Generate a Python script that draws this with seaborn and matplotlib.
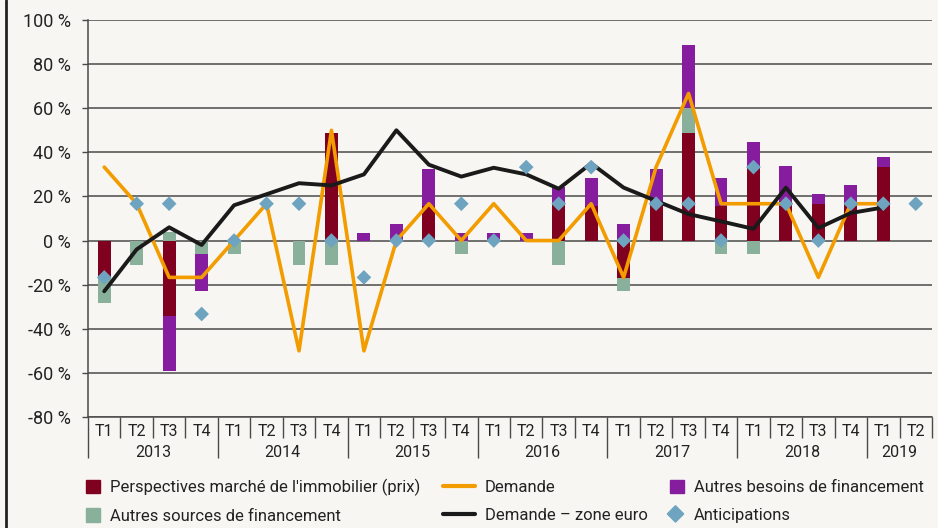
import numpy as np
import pandas as pd
import seaborn as sns
import matplotlib.pyplot as plt
import matplotlib.patches as mpatches
import matplotlib.lines as mlines
from matplotlib.legend_handler import HandlerPatch
from matplotlib.transforms import blended_transform_factory

# 2013 T1 ... 2019 T2
quarters = ['T1', 'T2', 'T3', 'T4'] * 6 + ['T1', 'T2']
years = ['2013', '2014', '2015', '2016', '2017', '2018', '2019']

perspectives = [-17, 0, -34, 0, 0, 0, 0, 48.7, 0, 0, 15.5, 0, 0,
                0, 16.4, 15.5, -17, 16.4, 48.7, 15.5, 33.3, 18, 16.7, 17, 33.5, 0]
autres_sources = [-11.3, -11.3, 3.9, -6, -6, 0, -11.3, -11.3, 0, 0, 0, -6, 0,
                  0, -11.3, 0, -5.7, 0, 11.3, -6, -6, 0, 0, 0, 0, 0]
autres_besoins = [0, 0, -25, -16.7, 0, 0, 0, 0, 3.5, 7.7, 17, 3.5, 3.5,
                  3.5, 8, 13, 7.7, 16, 28.8, 13, 11.3, 16, 4.5, 8, 4.4, 0]
demande = [33.3, 16.7, -16.7, -16.7, 0, 16.7, -50, 50, -50, 0, 16.7, 0, 16.7,
           0, 0, 16.7, -16.7, 33.3, 66.7, 16.7, 16.7, 16.7, -16.7, 16.7, 16.7, np.nan]
demande_euro = [-23, -4, 6, -2, 16, 21, 26, 25, 30, 50, 34.4, 29, 33,
                30, 23.5, 35, 24, 18, 12, 8.7, 5.3, 24, 5.7, 12.5, 15, np.nan]
anticipations = [-16.7, 16.7, 16.7, -33.3, 0, 16.7, 16.7, 0, -16.7, 0, 0, 16.7, 0,
                 33.3, 16.7, 33.3, 0, 16.7, 16.7, 0, 33.3, 16.7, 0, 16.7, 16.7, 16.7]

RED = '#800020'
PURPLE = '#861c9e'
GREEN = '#88b09b'
ORANGE = '#f29c00'
BLACK = '#1a1a1a'
BLUE = '#6fa4c0'
BG = '#f7f6f2'
GRID = '#4a4a4a'

sns.set_style('white')
plt.rcParams['font.family'] = ['Roboto', 'DejaVu Sans']
plt.rcParams['text.color'] = '#222222'
plt.rcParams['ytick.color'] = '#222222'

df = pd.DataFrame({'x': np.arange(len(quarters)),
                   'demande': demande,
                   'demande_euro': demande_euro,
                   'anticipations': anticipations})

W, H = 938, 528
fig = plt.figure(figsize=(W / 100, H / 100), dpi=100, facecolor=BG)
ax = fig.add_axes([88 / W, 1 - 417 / H, (932 - 88) / W, (417 - 20) / H])
ax.set_facecolor(BG)

# stacked bars, positives and negatives stacked separately
pos_base = np.zeros(len(quarters))
neg_base = np.zeros(len(quarters))
for vals, col in [(perspectives, RED), (autres_sources, GREEN), (autres_besoins, PURPLE)]:
    v = np.array(vals, dtype=float)
    bottom = np.where(v >= 0, pos_base, neg_base)
    ax.bar(df['x'], v, bottom=bottom, width=0.4, color=col, linewidth=0, zorder=2)
    pos_base = pos_base + np.where(v > 0, v, 0)
    neg_base = neg_base + np.where(v < 0, v, 0)

sns.lineplot(data=df, x='x', y='demande', color=ORANGE, lw=2.6, ax=ax, zorder=3)
sns.lineplot(data=df, x='x', y='demande_euro', color=BLACK, lw=2.8, ax=ax, zorder=4)
sns.scatterplot(data=df, x='x', y='anticipations', marker='D', s=56, color=BLUE,
                edgecolor='none', ax=ax, zorder=5)

ax.set_xlim(-0.5, len(quarters) - 0.5)
ax.set_ylim(-80, 100)
ax.set_xlabel('')
ax.set_ylabel('')

yt = list(range(-80, 101, 20))
ax.set_yticks(yt)
ax.set_yticklabels(['{v} %'.format(v=v) for v in yt], fontsize=13)
ax.tick_params(axis='y', direction='out', length=4.5, width=1, color=GRID, pad=8, left=True)
ax.yaxis.grid(True, color=GRID, lw=1.1)
ax.set_axisbelow(True)

for s in ['top', 'right']:
    ax.spines[s].set_visible(False)
ax.spines['left'].set_color(GRID)
ax.spines['left'].set_linewidth(1.1)
ax.spines['bottom'].set_color(GRID)
ax.spines['bottom'].set_linewidth(1.1)

# two level category axis
year_starts = [0, 4, 8, 12, 16, 20, 24]
bounds = np.arange(-0.5, len(quarters), 1.0)
year_bounds = [b - 0.5 for b in year_starts]
ax.set_xticks(year_bounds)
ax.set_xticks([b for b in bounds if b not in year_bounds], minor=True)
ax.set_xticklabels([])
ax.tick_params(axis='x', which='major', direction='out', length=29.5, width=1, color=GRID, bottom=True)
ax.tick_params(axis='x', which='minor', direction='out', length=15, width=1, color=GRID, bottom=True)

trans = blended_transform_factory(ax.transData, ax.transAxes)
for i, q in enumerate(quarters):
    ax.text(i, -0.037, q, transform=trans, ha='center', va='center', fontsize=11.5)
year_ends = year_starts[1:] + [len(quarters)]
for y, a, b in zip(years, year_starts, year_ends):
    ax.text((a + b - 1) / 2, -0.09, y, transform=trans, ha='center', va='center', fontsize=11.5)

# left border of the figure
fig.add_artist(mlines.Line2D([6 / W, 6 / W], [0, 1], color='#222222', lw=2, transform=fig.transFigure))


def square_right(legend, orig_handle, xdescent, ydescent, width, height, fontsize):
    s = height * 1.15
    return mpatches.Rectangle((width - xdescent - s, -ydescent + (height - s) / 2), s, s)


def diamond_right(legend, orig_handle, xdescent, ydescent, width, height, fontsize):
    r = height * 0.7
    return mpatches.RegularPolygon((width - xdescent - r, -ydescent + height / 2), 4, radius=r)


h_persp = mpatches.Patch(color=RED)
h_sources = mpatches.Patch(color=GREEN)
h_dem = mlines.Line2D([], [], color=ORANGE, lw=3)
h_euro = mlines.Line2D([], [], color=BLACK, lw=3)
h_besoins = mpatches.Patch(color=PURPLE)
h_antic = mpatches.Patch(color=BLUE)

hmap = {h_persp: HandlerPatch(patch_func=square_right),
        h_sources: HandlerPatch(patch_func=square_right),
        h_besoins: HandlerPatch(patch_func=square_right),
        h_antic: HandlerPatch(patch_func=diamond_right)}

legend_cols = [
    (68, [h_persp, h_sources], ["Perspectives marché de l'immobilier (prix)", 'Autres sources de financement']),
    (443, [h_dem, h_euro], ['Demande', 'Demande – zone euro']),
    (652, [h_besoins, h_antic], ['Autres besoins de financement', 'Anticipations']),
]
for x0, hs, ls in legend_cols:
    fig.legend(hs, ls, handler_map=hmap, ncol=1, loc='center left',
               bbox_to_anchor=(x0 / W, 1 - 501.5 / H), frameon=False, borderpad=0, borderaxespad=0,
               handlelength=1.9, handletextpad=0.6, labelspacing=0.75, prop={'size': 12})

plt.savefig('out.png', dpi=100, facecolor=BG)
